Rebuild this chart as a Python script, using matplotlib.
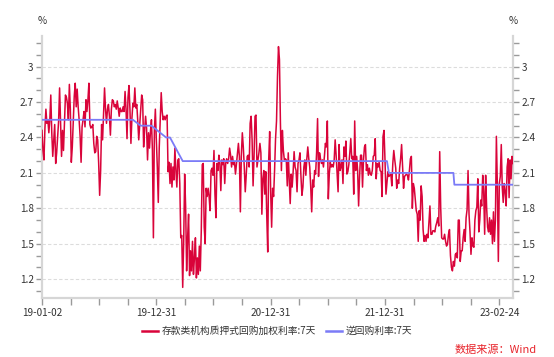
import numpy as np
import matplotlib
matplotlib.use("Agg")
import matplotlib.pyplot as plt
from matplotlib.ticker import MultipleLocator, FixedLocator

plt.rcParams['font.family'] = ['Noto Sans CJK SC', 'DejaVu Sans']

# 存款类机构质押式回购加权利率:7天 (%), one value per pixel column
dr007 = [
    2.46, 2.29, 2.21, 2.48, 2.64, 2.52, 2.55, 2.44, 2.55, 2.76, 2.44, 2.24, 2.38, 2.51, 2.18, 2.27,
    2.41, 2.54, 2.82, 2.52, 2.24, 2.46, 2.29, 2.52, 2.76, 2.74, 2.69, 2.55, 2.85, 2.64, 2.19, 2.32,
    2.54, 2.75, 2.86, 2.66, 2.81, 2.66, 2.55, 2.41, 2.19, 2.49, 2.55, 2.62, 2.49, 2.72, 2.62, 2.72,
    2.86, 2.51, 2.48, 2.49, 2.51, 2.35, 2.27, 2.28, 2.41, 2.38, 2.18, 1.91, 2.12, 2.51, 2.38, 2.61,
    2.82, 2.64, 2.52, 2.64, 2.68, 2.58, 2.42, 2.64, 2.72, 2.71, 2.66, 2.68, 2.64, 2.71, 2.65, 2.58,
    2.65, 2.62, 2.62,
    2.66, 2.62, 2.79, 2.64, 2.39, 2.74, 2.84, 2.64, 2.35, 2.56, 2.69, 2.66, 2.82, 2.65, 2.68, 2.54,
    2.38, 2.51, 2.64, 2.76, 2.72, 2.32, 2.46, 2.58, 2.48, 2.21, 2.44, 2.31, 2.45, 2.55, 2.29, 1.55,
    2.46, 2.64, 2.38, 2.15, 1.85, 2.32, 2.54, 2.78, 2.62, 2.55, 2.58, 2.55, 2.58, 2.59, 2.11, 2.19,
    2.01, 2.18, 1.98, 2.15, 2.04, 2.31, 2.12, 1.98, 2.21, 2.22, 2.01, 1.55, 1.57, 1.13, 1.52, 2.09,
    1.81, 1.27, 1.55, 1.75, 1.23, 1.44, 1.27, 1.52, 1.24, 1.38, 1.55, 1.21, 1.38, 1.24, 1.48, 1.27,
    1.61, 2.17, 2.18,
    1.64, 1.50, 1.97, 1.90, 1.97, 1.90, 1.78, 2.12, 2.14, 2.08, 2.29, 1.92, 1.72, 2.18, 2.12, 2.25,
    2.18, 1.95, 2.21, 2.17, 2.22, 2.01, 2.18, 2.22, 2.18, 2.22, 2.31, 2.25, 2.15, 2.24, 2.17, 2.19,
    2.09, 2.18, 2.27, 2.35, 2.24, 1.77, 2.25, 2.44, 2.32, 2.15, 1.94, 2.08, 2.24, 2.25, 2.15, 2.52,
    2.58, 2.38, 1.99, 2.24, 2.58, 2.59, 2.15, 2.21, 2.27, 2.35, 2.27, 1.75, 2.05, 2.12, 1.92, 2.11,
    1.74, 1.43, 2.21, 2.45, 1.94, 1.64, 1.97, 1.90, 2.12, 2.39, 2.54, 2.92, 3.17, 3.06, 2.52, 2.12,
    2.46, 2.29,
    2.21, 2.22, 2.21, 1.99, 2.27, 2.04, 1.84, 2.09, 1.98, 2.11, 2.28, 2.15, 2.12, 1.94, 2.18, 2.21,
    2.27, 2.07, 1.91, 1.98, 2.15, 2.21, 2.08, 2.22, 2.32, 2.22, 2.15, 1.98, 1.77, 2.04, 1.98, 2.12,
    2.09, 2.27, 2.56, 2.07, 2.27, 2.22, 2.18, 2.21, 2.15, 2.24, 2.35, 2.32, 2.54, 1.88, 2.09, 2.19,
    2.15, 2.17, 2.15, 2.21, 2.38, 2.25, 2.09, 1.94, 2.34, 2.12, 2.15, 2.21, 2.01, 2.32, 2.24, 2.37,
    2.09, 2.11, 2.17, 2.27, 2.39, 2.22, 2.24, 1.92, 2.54, 2.12, 2.24, 2.12, 1.82, 2.07, 2.25, 2.25,
    1.98, 2.21,
    2.32, 2.34, 2.12, 2.17, 2.08, 2.14, 2.09, 2.08, 2.12, 2.24, 2.25, 2.39, 2.05, 2.18, 2.15, 2.19,
    2.12, 2.11, 1.90, 2.41, 2.46, 2.21, 1.92, 2.01, 2.11, 2.07, 2.08, 2.09, 1.99, 2.18, 2.29, 2.21,
    2.14, 1.97, 2.04, 2.01, 2.14, 2.22, 2.34, 2.15, 1.97, 2.07, 2.08, 2.09, 2.08, 2.04, 2.12, 2.22,
    2.24, 1.80, 2.01, 1.97, 1.87, 1.78, 1.75, 1.52, 1.78, 1.70, 1.99, 1.90, 1.62, 1.52, 1.57, 1.52,
    1.58, 1.55, 1.68, 1.82, 1.58, 1.58, 1.61, 1.61, 1.60, 1.65, 1.68, 1.72, 1.65, 2.28, 1.81, 1.55,
    1.54,
    1.54, 1.58, 1.52, 1.48, 1.50, 1.58, 1.62, 1.40, 1.30, 1.27, 1.35, 1.31, 1.41, 1.42, 1.38, 1.70,
    1.70, 1.35, 1.44, 1.44, 1.55, 1.62, 1.52, 1.72, 1.79, 2.12, 1.75, 1.60, 1.41, 1.55, 1.48, 1.47,
    1.70, 1.78, 1.81, 2.05, 1.60, 1.70, 1.87, 1.82, 2.08, 1.94, 1.58, 2.08, 1.81, 1.64, 1.60, 1.72,
    1.58, 1.70, 1.50, 1.77, 1.52, 1.70, 2.41, 1.98, 1.35, 2.01, 2.07, 2.34, 1.98, 1.85, 2.01, 1.94,
    1.82, 2.15, 2.22, 1.89, 2.21, 2.05, 2.24, 2.18,
]

# 逆回购利率:7天, as (observation index, rate) points where the level changes
repo_idx = [0, 93, 101, 112, 127, 131, 144, 353, 355, 421, 422, 482]
repo_rate = [2.55, 2.55, 2.50, 2.50, 2.40, 2.40, 2.20, 2.20, 2.10, 2.10, 2.00, 2.00]

date_labels = ["19-01-02", "19-12-31", "20-12-31", "21-12-31", "23-02-24"]
date_pos = [0, 117, 234, 351, 468]

red = "#d9043a"
blue = "#7b7bf7"
axis_grey = "#d6d6d6"
text_col = "#333333"

fig = plt.figure(figsize=(5.54, 3.57), dpi=100)
ax = fig.add_axes([42 / 554, 1 - 298 / 357, (513 - 42) / 554, (298 - 36) / 357])

x = np.arange(len(dr007))
ax.plot(x, dr007, color=red, lw=1.1, zorder=3)
ax.plot(repo_idx, repo_rate, color=blue, lw=1.3, zorder=4)

ax.set_xlim(0, len(dr007) - 1)
ax.set_ylim(1.04, 3.26)

# y axis on both sides
ax.yaxis.set_major_locator(FixedLocator([1.2, 1.5, 1.8, 2.1, 2.4, 2.7, 3.0]))
ax.yaxis.set_minor_locator(MultipleLocator(0.1))
ax.set_yticklabels(["1.2", "1.5", "1.8", "2.1", "2.4", "2.7", "3"])
ax.tick_params(axis="y", which="both", left=True, right=True, labelleft=True, labelright=True,
               length=4, width=1, color="#9a9a9a", labelsize=7.2, labelcolor=text_col, pad=2)

ax.xaxis.set_major_locator(FixedLocator(date_pos))
ax.xaxis.set_minor_locator(MultipleLocator(117 / 4))
ax.set_xticklabels(date_labels)
ax.tick_params(axis="x", which="both", length=5, width=1, color="#9a9a9a",
               labelsize=7.2, labelcolor=text_col, pad=2)

ax.grid(axis="y", which="major", color="#dcdcdc", lw=0.8, linestyle=(0, (3, 2)))
ax.set_axisbelow(True)

for side in ["left", "right", "bottom"]:
    ax.spines[side].set_color(axis_grey)
    ax.spines[side].set_linewidth(1.6)
ax.spines["top"].set_visible(False)

ax.text(0, 1.04, "%", transform=ax.transAxes, ha="center", va="bottom", fontsize=7.2, color=text_col)
ax.text(1, 1.04, "%", transform=ax.transAxes, ha="center", va="bottom", fontsize=7.2, color=text_col)

handles = [plt.Line2D([], [], color=red, lw=1.8), plt.Line2D([], [], color=blue, lw=1.8)]
fig.legend(handles, ["存款类机构质押式回购加权利率:7天", "逆回购利率:7天"],
           loc="center", bbox_to_anchor=(277 / 554, 1 - 331 / 357), ncol=2, frameon=False,
           fontsize=7, handlelength=1.7, handletextpad=0.35, columnspacing=1.0,
           labelcolor=text_col)

fig.text(537 / 554, 1 - 350 / 357, "数据来源：Wind", ha="right", va="center",
         fontsize=8, color="#e8262d")

fig.savefig("out.png", dpi=100)
